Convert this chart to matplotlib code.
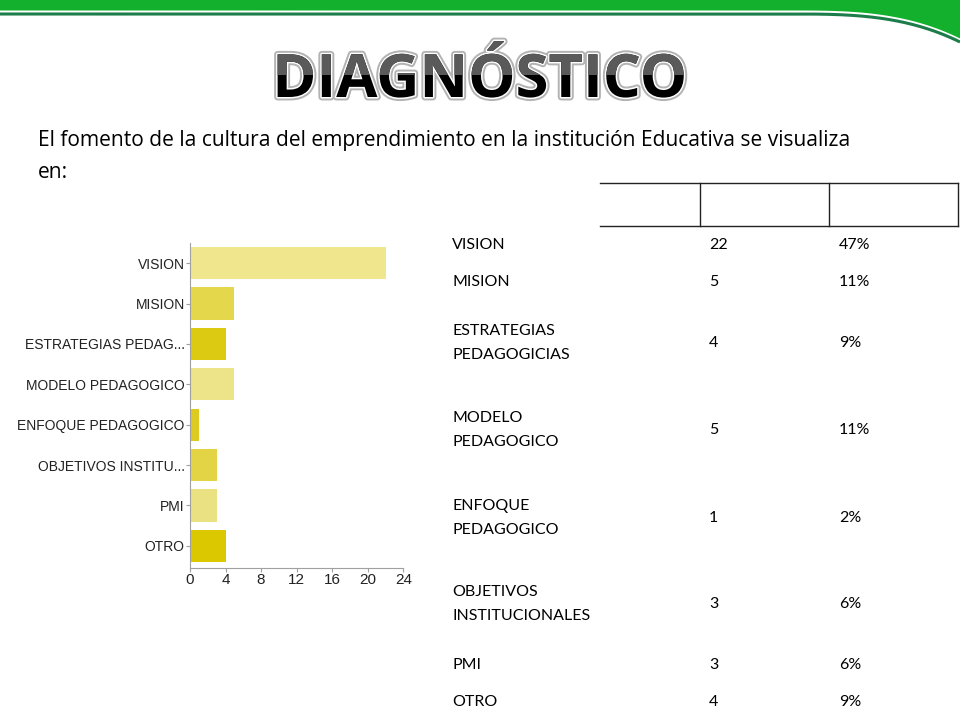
import numpy as np
import matplotlib
matplotlib.use('Agg')
import matplotlib.pyplot as plt
import matplotlib.patheffects as pe
from matplotlib.patches import Rectangle

# data
categories = ['VISION', 'MISION', 'ESTRATEGIAS PEDAG...', 'MODELO PEDAGOGICO',
              'ENFOQUE PEDAGOGICO', 'OBJETIVOS INSTITU...', 'PMI', 'OTRO']
table_labels = ['VISION', 'MISION', 'ESTRATEGIAS\nPEDAGOGICIAS', 'MODELO\nPEDAGOGICO',
                'ENFOQUE\nPEDAGOGICO', 'OBJETIVOS\nINSTITUCIONALES', 'PMI', 'OTRO']
counts = [22, 5, 4, 5, 1, 3, 3, 4]
percents = [47, 11, 9, 11, 2, 6, 6, 9]
x_ticks = [0, 4, 8, 12, 16, 20, 24]

title = 'DIAGNÓSTICO'
subtitle_1 = 'El fomento de la cultura del emprendimiento en la institución Educativa se visualiza'
subtitle_2 = 'en:'

# styling
bar_colors = ['#efe68d', '#e5d74c', '#dcc912', '#ede388',
              '#ddcb22', '#e3d446', '#eae183', '#dcc800']
row_y = [245, 282, 343, 430, 518, 604, 665, 702]

fig = plt.figure(figsize=(9.6, 7.2), dpi=100)

# background layer in pixel coordinates
bg = fig.add_axes([0, 0, 1, 1])
bg.set_xlim(0, 960)
bg.set_ylim(720, 0)
bg.axis('off')

# green banner on top
xs = np.linspace(0, 960, 500)
drop = np.where(xs > 790, 28 * ((xs - 790) / 170) ** 3, 0)
bg.fill_between(xs, 0, 10.5 + drop, color='#12b02c', lw=0)
bg.plot(xs, 14 + drop, color='#1d7d4a', lw=2.2, solid_capstyle='butt')

# title with outline and two-tone fill (grey upper half, black lower half)
title_kw = dict(ha='center', va='baseline', fontsize=43, fontweight='bold',
                family='Open Sans')
bg.text(480, 97, title, color='black',
        path_effects=[pe.Stroke(linewidth=5, foreground='#b3b3b3'),
                      pe.Stroke(linewidth=2.2, foreground='white'),
                      pe.Normal()], **title_kw)
top_half = bg.text(480, 97, title, color='#5a5a5a',
                   path_effects=[pe.Normal()], **title_kw)
clip_rect = Rectangle((200, 30), 560, 45, transform=bg.transData)
top_half.set_clip_path(clip_rect)
top_half.set_clip_on(True)

# subtitle
bg.text(38, 146, subtitle_1, fontsize=15.1, family='Open Sans', color='black', va='baseline')
bg.text(38, 178, subtitle_2, fontsize=15.1, family='Open Sans', color='black', va='baseline')

# table header box
bg.plot([600, 958], [183, 183], color='#222222', lw=1)
bg.plot([600, 958], [226, 226], color='#222222', lw=1)
for vx in [700, 829, 958]:
    bg.plot([vx, vx], [183, 226], color='#222222', lw=1)

# table rows
for lab, c, p, yy in zip(table_labels, counts, percents, row_y):
    bg.text(452, yy, lab, fontsize=11.5, family='Lato', va='center', ha='left',
            linespacing=1.95, color='black')
    bg.text(709, yy, str(c), fontsize=11.5, family='Lato', va='center', ha='left')
    bg.text(839, yy, f'{p}%', fontsize=11.5, family='Lato', va='center', ha='left')

# bar chart
ax = fig.add_axes([0.1979, 0.2111, 0.2222, 0.4514])
y = np.arange(len(categories))
ax.barh(y, counts, height=0.8, color=bar_colors)
ax.set_xlim(0, 24)
ax.set_ylim(len(categories) - 0.45, -0.5)
ax.set_xticks(x_ticks)
ax.set_yticks(y)
ax.set_yticklabels(categories)
for side in ['top', 'right']:
    ax.spines[side].set_visible(False)
for side in ['left', 'bottom']:
    ax.spines[side].set_color('#a0a0a0')
    ax.spines[side].set_linewidth(0.8)
ax.tick_params(axis='both', color='#a0a0a0', labelcolor='#222222', length=3,
               width=0.8, pad=0.8)
for lbl in ax.get_yticklabels():
    lbl.set_family('Liberation Sans')
    lbl.set_fontsize(10)
for lbl in ax.get_xticklabels():
    lbl.set_family('Liberation Sans')
    lbl.set_fontsize(11)
ax.patch.set_alpha(0)

fig.savefig('out.png', dpi=100)
